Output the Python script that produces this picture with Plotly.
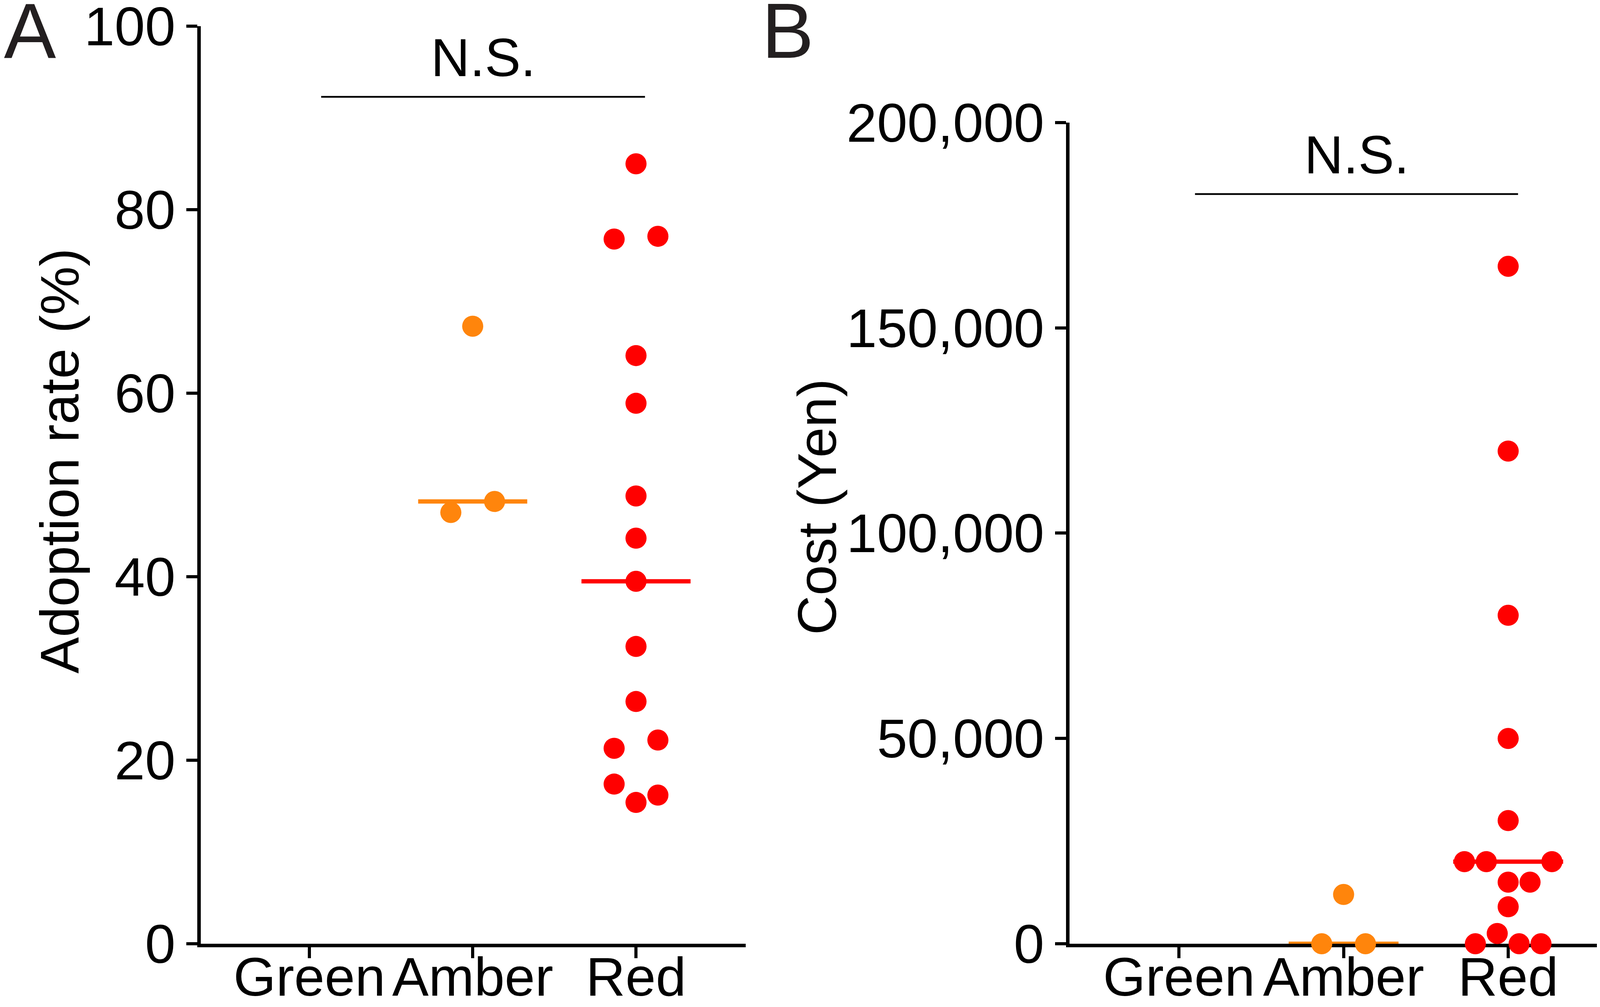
import numpy as np
import plotly.graph_objects as go

# ---------------- data ----------------
categories = ["Green", "Amber", "Red"]

adoption_green = []
adoption_amber = [67.3, 47.0, 48.2]
adoption_red = [85.0, 77.1, 76.8, 64.1, 58.9, 48.8, 44.2, 39.5, 32.4,
                26.4, 22.2, 21.3, 17.4, 16.2, 15.4]

cost_green = []
cost_amber = [12000, 0, 0]
cost_red = [165000, 120000, 80000, 50000, 30000, 20000, 20000, 20000,
            15000, 15000, 9000, 2500, 0, 0, 0]

adoption_ticks = [0, 20, 40, 60, 80, 100]
cost_ticks = [0, 50000, 100000, 150000, 200000]

# ---------------- layout constants ----------------
W, H = 4141, 2579
FONT = "Liberation Sans"
BLACK = "#000000"
LABEL_COLOR = "#231F20"
COLORS = {"Green": "#00A000", "Amber": "#FF850C", "Red": "#FF0000"}

XRANGE = [-0.665, 2.672]
XDOM_A = [0.1222, 0.4591]
XDOM_B = [0.6593, 0.9988]
YDOM_A = [0.06592, 0.97712]
YDOM_B = [0.06592, 0.88135]
YRANGE_A = [0, 100]
YRANGE_B = [0, 200000]

MARKER_D = 54          # marker diameter, px
STEP_PX = 56           # horizontal swarm step, px
MEDIAN_HALF = 0.334    # half width of median bar, category units
MEDIAN_W = 11
AXIS_W = 9
TICK_W = 8
TICK_LEN = 28
FS = 140


def px_per_unit_y(dom, rng):
    return (dom[1] - dom[0]) * H / (rng[1] - rng[0])


def px_per_unit_x(dom):
    return (dom[1] - dom[0]) * W / (XRANGE[1] - XRANGE[0])


def slot_order(n):
    if n == 1:
        return [0]
    if n == 2:
        return [-1, 1]
    if n % 2 == 1:
        out = [0]
        for k in range(1, n // 2 + 1):
            out += [k, -k]
        return out
    vals = [k - (n - 1) / 2 for k in range(n)]
    return [vals[0]] + vals[n // 2:] + vals[1:n // 2]


def swarm_offsets(values, thresh_units, step_units):
    if not values:
        return []
    order = sorted(range(len(values)), key=lambda i: values[i])
    rows, cur = [], [order[0]]
    for i in order[1:]:
        if values[i] - values[cur[0]] <= thresh_units:
            cur.append(i)
        else:
            rows.append(cur)
            cur = [i]
    rows.append(cur)
    offs = [0.0] * len(values)
    for row in rows:
        slots = slot_order(len(row))
        for k, i in enumerate(row):
            offs[i] = slots[k] * step_units
    return offs


fig = go.Figure()


def add_panel(groups, xref, yref, xdom, ydom, yrng):
    ppu_y = px_per_unit_y(ydom, yrng)
    ppu_x = px_per_unit_x(xdom)
    thresh = 1.05 * MARKER_D / ppu_y
    step = STEP_PX / ppu_x
    for ci, (cat, vals) in enumerate(zip(categories, groups)):
        if not vals:
            continue
        col = COLORS[cat]
        med = float(np.median(vals))
        fig.add_trace(go.Scatter(
            x=[ci - MEDIAN_HALF, ci + MEDIAN_HALF], y=[med, med],
            mode="lines", line=dict(color=col, width=MEDIAN_W),
            xaxis=xref, yaxis=yref, cliponaxis=False, showlegend=False,
            hoverinfo="skip"))
        offs = swarm_offsets(vals, thresh, step)
        fig.add_trace(go.Scatter(
            x=[ci + o for o in offs], y=vals, mode="markers",
            marker=dict(color=col, size=MARKER_D, line=dict(width=0)),
            xaxis=xref, yaxis=yref, cliponaxis=False, showlegend=False,
            name=cat))


add_panel([adoption_green, adoption_amber, adoption_red], "x", "y",
          XDOM_A, YDOM_A, YRANGE_A)
add_panel([cost_green, cost_amber, cost_red], "x2", "y2",
          XDOM_B, YDOM_B, YRANGE_B)

axis_common = dict(
    showline=True, linewidth=AXIS_W, linecolor=BLACK, mirror=False,
    ticks="outside", ticklen=TICK_LEN, tickwidth=TICK_W, tickcolor=BLACK,
    tickfont=dict(family=FONT, size=FS, color=BLACK),
    showgrid=False, zeroline=False, layer="below traces", fixedrange=True,
    automargin=False, ticklabeloverflow="allow",
)
xaxis_extra = dict(ticklabelstandoff=-72)

fig.update_layout(
    template="none",
    width=W, height=H,
    margin=dict(l=0, r=0, t=0, b=0, pad=0, autoexpand=False),
    paper_bgcolor="white", plot_bgcolor="white",
    showlegend=False,
    xaxis=dict(domain=XDOM_A, range=XRANGE, anchor="y",
               tickmode="array", tickvals=[0, 1, 2], ticktext=categories,
               **axis_common, **xaxis_extra),
    yaxis=dict(domain=YDOM_A, range=YRANGE_A, anchor="x",
               tickmode="array", tickvals=adoption_ticks,
               ticktext=[str(v) for v in adoption_ticks], **axis_common),
    xaxis2=dict(domain=XDOM_B, range=XRANGE, anchor="y2",
                tickmode="array", tickvals=[0, 1, 2], ticktext=categories,
                **axis_common, **xaxis_extra),
    yaxis2=dict(domain=YDOM_B, range=YRANGE_B, anchor="x2",
                tickmode="array", tickvals=cost_ticks,
                ticktext=[f"{v:,}" for v in cost_ticks], **axis_common),
)

# significance brackets
brackets = [
    dict(xref="x", yref="y", x0=0.072, x1=2.055, y=92.3),
    dict(xref="x2", yref="y2", x0=0.097, x1=2.060, y=182600),
]
for b in brackets:
    fig.add_shape(type="line", xref=b["xref"], yref=b["yref"],
                  x0=b["x0"], x1=b["x1"], y0=b["y"], y1=b["y"],
                  line=dict(color=BLACK, width=4.5))
    fig.add_annotation(xref=b["xref"], yref=b["yref"],
                       x=(b["x0"] + b["x1"]) / 2, y=b["y"],
                       text="N.S.", showarrow=False,
                       xanchor="center", yanchor="bottom", yshift=22,
                       font=dict(family=FONT, size=138, color=BLACK))

# axis titles
fig.add_annotation(xref="paper", yref="paper", x=0.03480, y=0.54517,
                   text="Adoption rate (%)", textangle=-90, showarrow=False,
                   xanchor="center", yanchor="middle",
                   font=dict(family=FONT, size=FS, color=BLACK))
fig.add_annotation(xref="paper", yref="paper", x=0.50300, y=0.49970,
                   text="Cost (Yen)", textangle=-90, showarrow=False,
                   xanchor="center", yanchor="middle",
                   font=dict(family=FONT, size=FS, color=BLACK))

# panel letters
fig.add_annotation(xref="paper", yref="paper", x=0.0, y=0.9285,
                   text="A", showarrow=False, xanchor="left", yanchor="bottom",
                   font=dict(family=FONT, size=200, color=LABEL_COLOR))
fig.add_annotation(xref="paper", yref="paper", x=1940 / W, y=0.9285,
                   text="B", showarrow=False, xanchor="left", yanchor="bottom",
                   font=dict(family=FONT, size=200, color=LABEL_COLOR))

fig.write_html("out.html")
